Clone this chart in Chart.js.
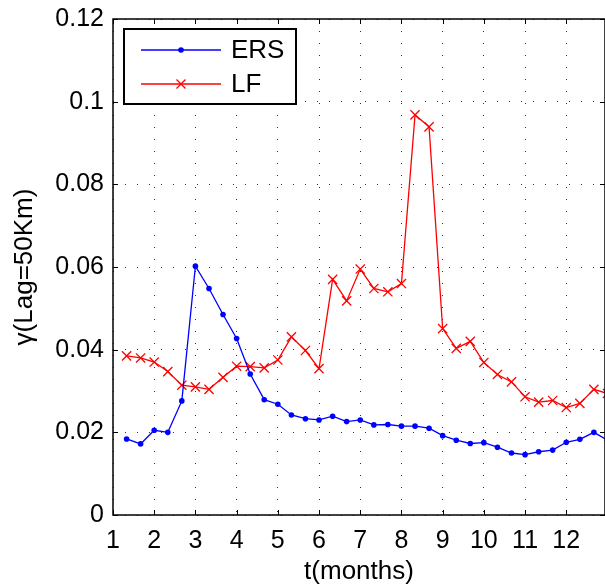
<!DOCTYPE html>
<html>
<head>
<meta charset="utf-8">
<script src="https://cdn.jsdelivr.net/npm/chart.js@4.4.0/dist/chart.umd.min.js"></script>
<style>
  body { margin: 0; background: #fff; }
  canvas { display: block; }
</style>
</head>
<body>
<canvas id="chart" width="605" height="587"></canvas>
<script>
// time in months, one sample every third of a month
const months = [1.33, 1.67, 2, 2.33, 2.67, 3, 3.33, 3.67, 4, 4.33, 4.67, 5, 5.33, 5.67, 6, 6.33, 6.67,
    7, 7.33, 7.67, 8, 8.33, 8.67, 9, 9.33, 9.67, 10, 10.33, 10.67, 11, 11.33, 11.67, 12, 12.33, 12.67, 13];
const ersValues = [0.0184, 0.0172, 0.0205, 0.0200, 0.0276, 0.0602, 0.0548, 0.0485, 0.0427, 0.0341, 0.0279, 0.0268,
    0.0242, 0.0233, 0.0230, 0.0239, 0.0226, 0.0230, 0.0218, 0.0219, 0.0215, 0.0215, 0.0210, 0.0192,
    0.0181, 0.0173, 0.0175, 0.0164, 0.0150, 0.0146, 0.0153, 0.0157, 0.0176, 0.0183, 0.0200, 0.0181];
const lfValues = [0.0385, 0.0380, 0.0370, 0.0347, 0.0314, 0.0310, 0.0304, 0.0333, 0.0360, 0.0359, 0.0356, 0.0375,
    0.0431, 0.0398, 0.0354, 0.0570, 0.0518, 0.0595, 0.0548, 0.0540, 0.0560, 0.0968, 0.0939, 0.0451,
    0.0403, 0.0420, 0.0369, 0.0340, 0.0322, 0.0286, 0.0273, 0.0277, 0.0260, 0.0270, 0.0304, 0.0294];
const xTicks = [1, 2, 3, 4, 5, 6, 7, 8, 9, 10, 11, 12];
const yTicks = [0, 0.02, 0.04, 0.06, 0.08, 0.1, 0.12];

const FONT = "'Liberation Sans', Arial, sans-serif";

const toPoints = values => values.map((v, i) => ({x: months[i], y: v}));

// box, inward tick marks on all four sides, and the legend
const framePlugin = {
    id: 'frame',
    afterDraw(chart) {
        const {ctx, chartArea: a, scales} = chart;
        ctx.save();
        ctx.strokeStyle = '#000';
        ctx.lineWidth = 1.5;
        ctx.strokeRect(a.left, a.top, a.right - a.left, a.bottom - a.top);
        ctx.lineWidth = 1;
        ctx.beginPath();
        xTicks.forEach(t => {
            const px = Math.round(scales.x.getPixelForValue(t)) + 0.5;
            ctx.moveTo(px, a.bottom); ctx.lineTo(px, a.bottom - 5);
            ctx.moveTo(px, a.top); ctx.lineTo(px, a.top + 5);
        });
        yTicks.forEach(t => {
            const py = Math.round(scales.y.getPixelForValue(t)) + 0.5;
            ctx.moveTo(a.left, py); ctx.lineTo(a.left + 5, py);
            ctx.moveTo(a.right, py); ctx.lineTo(a.right - 5, py);
        });
        ctx.stroke();

        // legend
        const lx = a.left + 11, ly = a.top + 10, lw = 172, lh = 75;
        ctx.fillStyle = '#fff';
        ctx.fillRect(lx, ly, lw, lh);
        ctx.lineWidth = 2;
        ctx.strokeRect(lx, ly, lw, lh);
        chart.data.datasets.forEach((ds, i) => {
            const y = ly + 21 + i * 34;
            ctx.strokeStyle = ds.borderColor;
            ctx.lineWidth = 1.3;
            ctx.beginPath();
            ctx.moveTo(lx + 17, y); ctx.lineTo(lx + 97, y);
            ctx.stroke();
            const cx = lx + 57;
            if (ds.pointStyle === 'circle') {
                ctx.fillStyle = ds.borderColor;
                ctx.beginPath();
                ctx.arc(cx, y, 2.8, 0, Math.PI * 2);
                ctx.fill();
            } else {
                const r = 4.5;
                ctx.beginPath();
                ctx.moveTo(cx - r, y - r); ctx.lineTo(cx + r, y + r);
                ctx.moveTo(cx - r, y + r); ctx.lineTo(cx + r, y - r);
                ctx.stroke();
            }
            ctx.fillStyle = '#000';
            ctx.font = '26px ' + FONT;
            ctx.textBaseline = 'middle';
            ctx.fillText(ds.label, lx + 107, y + 1);
        });
        ctx.restore();
    }
};

new Chart(document.getElementById('chart').getContext('2d'), {
    type: 'line',
    data: {
        datasets: [{
            label: 'ERS',
            data: toPoints(ersValues),
            borderColor: '#0000ff',
            backgroundColor: '#0000ff',
            borderWidth: 1.3,
            pointStyle: 'circle',
            pointRadius: 2.8,
            pointBorderWidth: 0,
            tension: 0,
            fill: false
        }, {
            label: 'LF',
            data: toPoints(lfValues),
            borderColor: '#ff0000',
            backgroundColor: '#ff0000',
            borderWidth: 1.3,
            pointStyle: 'crossRot',
            pointRadius: 6.5,
            pointBorderWidth: 1.3,
            tension: 0,
            fill: false
        }]
    },
    options: {
        responsive: false,
        animation: false,
        layout: {autoPadding: false, padding: {top: 19, right: 0, left: 0, bottom: 0}},
        plugins: {legend: {display: false}, tooltip: {enabled: false}},
        scales: {
            x: {
                type: 'linear',
                min: 1,
                max: 12.94,
                afterBuildTicks: scale => { scale.ticks = xTicks.map(v => ({value: v})); },
                afterFit: scale => { scale.height = 72; scale.paddingLeft = 0; scale.paddingRight = 0; },
                ticks: {
                    maxRotation: 0,
                    autoSkip: false,
                    padding: 11,
                    color: '#000',
                    font: {family: FONT, size: 25}
                },
                grid: {color: '#333', lineWidth: 1, drawTicks: false},
                border: {display: false, dash: [1, 11]},
                title: {
                    display: true,
                    text: 't(months)',
                    color: '#000',
                    font: {family: FONT, size: 26},
                    padding: {top: 0, bottom: 0}
                }
            },
            y: {
                min: 0,
                max: 0.12,
                afterBuildTicks: scale => { scale.ticks = yTicks.map(v => ({value: v})); },
                afterFit: scale => { scale.width = 113; scale.paddingTop = 0; scale.paddingBottom = 0; },
                ticks: {
                    padding: 9,
                    color: '#000',
                    font: {family: FONT, size: 25},
                    callback: v => String(Math.round(v * 100) / 100)
                },
                grid: {color: '#333', lineWidth: 1, drawTicks: false},
                border: {display: false, dash: [1, 11]},
                title: {
                    display: true,
                    text: 'γ(Lag=50Km)',
                    color: '#000',
                    font: {family: FONT, size: 26},
                    padding: {top: 9, bottom: 0}
                }
            }
        }
    },
    plugins: [framePlugin]
});
</script>
</body>
</html>
